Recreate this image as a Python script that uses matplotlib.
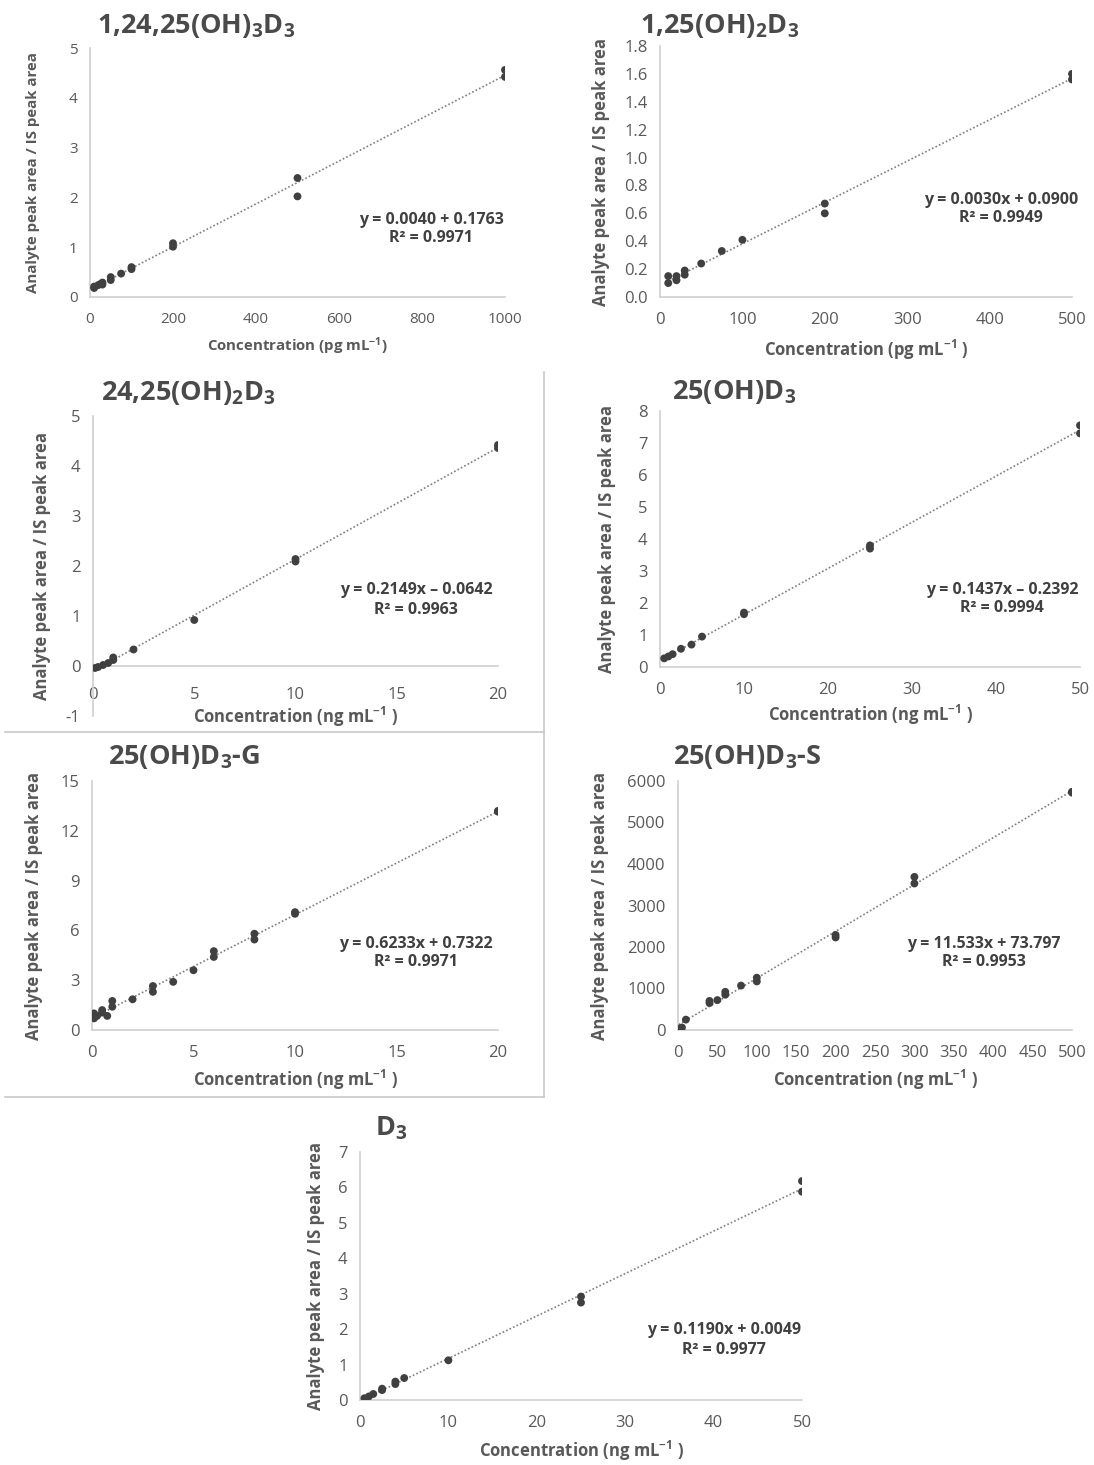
import matplotlib
matplotlib.use("Agg")
import matplotlib.pyplot as plt
from matplotlib.lines import Line2D
import numpy as np

plt.rcParams['font.family'] = ['Open Sans', 'DejaVu Sans']
plt.rcParams['mathtext.fontset'] = 'custom'
plt.rcParams['mathtext.rm'] = 'Open Sans'
plt.rcParams['mathtext.bf'] = 'Open Sans:bold'
plt.rcParams['mathtext.default'] = 'bf'

# ---------------- data ----------------
p1_x = [10, 10, 20, 25, 30, 30, 50, 50, 75, 100, 100, 200, 200, 500, 500, 1000, 1000]
p1_y = [0.18, 0.21, 0.24, 0.26, 0.25, 0.29, 0.34, 0.40, 0.47, 0.56, 0.60, 1.01, 1.08, 2.02, 2.39, 4.42, 4.56]

p2_x = [10, 10, 20, 20, 30, 30, 50, 75, 100, 200, 200, 500, 500]
p2_y = [0.10, 0.15, 0.12, 0.15, 0.16, 0.19, 0.24, 0.33, 0.41, 0.60, 0.67, 1.56, 1.60]

p3_x = [0.1, 0.25, 0.5, 0.75, 1, 1, 2, 5, 10, 10, 20, 20]
p3_y = [-0.04, -0.02, 0.02, 0.06, 0.12, 0.17, 0.33, 0.92, 2.09, 2.14, 4.36, 4.42]

p4_x = [0.5, 1, 1.5, 2.5, 3.75, 5, 10, 10, 25, 25, 50, 50]
p4_y = [0.27, 0.33, 0.40, 0.57, 0.70, 0.95, 1.65, 1.70, 3.70, 3.80, 7.30, 7.55]

p5_x = [0.1, 0.1, 0.25, 0.5, 0.5, 0.75, 1, 1, 2, 3, 3, 4, 5, 6, 6, 8, 8, 10, 10, 20, 20]
p5_y = [0.7, 1.0, 0.85, 1.2, 1.05, 0.85, 1.4, 1.75, 1.85, 2.3, 2.65, 2.9, 3.6, 4.4, 4.75, 5.45, 5.8, 7.0, 7.1, 13.15, 13.2]

p6_x = [1, 2.5, 5, 10, 40, 40, 50, 60, 60, 80, 100, 100, 200, 200, 300, 300, 500, 500]
p6_y = [20, 40, 60, 250, 650, 700, 720, 850, 920, 1070, 1170, 1260, 2230, 2290, 3530, 3690, 5720, 5740]

p7_x = [0.5, 1, 1.5, 2.5, 2.5, 4, 4, 5, 10, 25, 25, 50, 50]
p7_y = [0.05, 0.10, 0.17, 0.28, 0.32, 0.45, 0.52, 0.62, 1.12, 2.75, 2.92, 5.88, 6.18]

titles = [r"1,24,25(OH)$_3$D$_3$", r"1,25(OH)$_2$D$_3$", r"24,25(OH)$_2$D$_3$",
          r"25(OH)D$_3$", r"25(OH)D$_3$-G", r"25(OH)D$_3$-S", r"D$_3$"]
eq_texts = ["y = 0.0040 + 0.1763\nR² = 0.9971",
            "y = 0.0030x + 0.0900\nR² = 0.9949",
            "y = 0.2149x – 0.0642\nR² = 0.9963",
            "y = 0.1437x – 0.2392\nR² = 0.9994",
            "y = 0.6233x + 0.7322\nR² = 0.9971",
            "y = 11.533x + 73.797\nR² = 0.9953",
            "y = 0.1190x + 0.0049\nR² = 0.9977"]
xlabels = [r"Concentration (pg mL$^{-1}$)", r"Concentration (pg mL$^{-1}$ )",
           r"Concentration (ng mL$^{-1}$ )", r"Concentration (ng mL$^{-1}$ )",
           r"Concentration (ng mL$^{-1}$ )", r"Concentration (ng mL$^{-1}$ )",
           r"Concentration (ng mL$^{-1}$ )"]
ylabel = "Analyte peak area / IS peak area"

xticks = [np.arange(0, 1001, 200), np.arange(0, 501, 100), np.arange(0, 21, 5),
          np.arange(0, 51, 10), np.arange(0, 21, 5), np.arange(0, 501, 50), np.arange(0, 51, 10)]
yticks = [np.arange(0, 6, 1), np.arange(0, 1.81, 0.2), np.arange(-1, 6, 1),
          np.arange(0, 9, 1), np.arange(0, 16, 3), np.arange(0, 6001, 1000), np.arange(0, 8, 1)]
yfmt = ["{:.0f}", "{:.1f}", "{:.0f}", "{:.0f}", "{:.0f}", "{:.0f}", "{:.0f}"]

xs = [p1_x, p2_x, p3_x, p4_x, p5_x, p6_x, p7_x]
ys = [p1_y, p2_y, p3_y, p4_y, p5_y, p6_y, p7_y]

W, H = 1094, 1465
# axes positions in pixels: left, right, top, bottom
pix = [(90, 505, 48, 297), (660, 1072, 46, 297), (93, 498, 416, 716),
       (660, 1080, 411, 667), (92, 498, 781, 1030), (678, 1072, 781, 1030),
       (360, 802, 1152, 1400)]
title_pos = [(97, 26), (640, 26), (101, 393), (672, 392), (108, 757), (673, 757), (375, 1128)]
eq_pos = [(431, 229), (1001, 209), (416, 600), (1002, 599), (416, 953), (984, 953), (724, 1340)]
xlab_y = [346, 350, 717, 715, 1080, 1080, 1451]
xpad = [11, 11, 15, 11, 11, 11, 11]
tick_fs = [11, 12, 12, 12, 12, 12, 12]
lab_fs = [10.8, 12, 12, 12, 12, 12, 12]
ylab_x = [33, 601, 42, 607, 34, 600, 316]

fig = plt.figure(figsize=(W / 100, H / 100), dpi=100)
fig.patch.set_facecolor('white')

txtc = '#595959'
for i in range(7):
    l, r, t, b = pix[i]
    ax = fig.add_axes([l / W, 1 - b / H, (r - l) / W, (b - t) / H])
    x = np.array(xs[i], dtype=float)
    y = np.array(ys[i], dtype=float)
    m, c = np.polyfit(x, y, 1)
    xl = np.array([x.min(), x.max()])
    ax.plot(xl, m * xl + c, linestyle=(0, (1, 1.3)), color='#7f7f7f', lw=1.2, zorder=2)
    ax.scatter(x, y, s=32, color='#404040', zorder=3, edgecolors='none')
    ax.set_xlim(xticks[i][0], xticks[i][-1])
    ax.set_ylim(yticks[i][0], yticks[i][-1])
    ax.set_xticks(xticks[i])
    ax.set_yticks(yticks[i])
    ax.set_yticklabels([yfmt[i].format(v) for v in yticks[i]])
    ax.tick_params(length=0, labelsize=tick_fs[i], labelcolor=txtc)
    ax.tick_params(axis='x', pad=xpad[i])
    ax.tick_params(axis='y', pad=9)
    for s in ['top', 'right']:
        ax.spines[s].set_visible(False)
    for s in ['left', 'bottom']:
        ax.spines[s].set_color('#d0d0d0')
        ax.spines[s].set_linewidth(1.2)
    if yticks[i][0] < 0:
        ax.spines['bottom'].set_position(('data', 0))
    ax.set_xlabel(xlabels[i], fontsize=lab_fs[i], fontweight='bold', color=txtc)
    ax.xaxis.set_label_coords(0.5, -(xlab_y[i] - b) / (b - t))
    ax.xaxis.label.set_va('center')
    ax.set_ylabel(ylabel, fontsize=lab_fs[i], fontweight='bold', color=txtc)
    ax.yaxis.set_label_coords((ylab_x[i] - l) / (r - l), 0.5)
    ax.yaxis.label.set_va('center')
    ex, ey = eq_pos[i]
    fig.text(ex / W, 1 - ey / H, eq_texts[i], ha='center', va='center', fontsize=11.5,
             fontweight='bold', color='#404040', linespacing=1.25)
    tx, ty = title_pos[i]
    fig.text(tx / W, 1 - ty / H, titles[i], ha='left', va='center', fontsize=19.5,
             fontweight='bold', color='#4a4a4a')

# decorative frame lines
lc = '#c8c8c8'
fig.add_artist(Line2D([544 / W, 544 / W], [1 - 372 / H, 1 - 1097 / H], color=lc, lw=1.2))
fig.add_artist(Line2D([5 / W, 544 / W], [1 - 732 / H, 1 - 732 / H], color=lc, lw=1.2))
fig.add_artist(Line2D([5 / W, 544 / W], [1 - 1097 / H, 1 - 1097 / H], color=lc, lw=1.2))

fig.savefig("out.png", dpi=100, facecolor='white')
